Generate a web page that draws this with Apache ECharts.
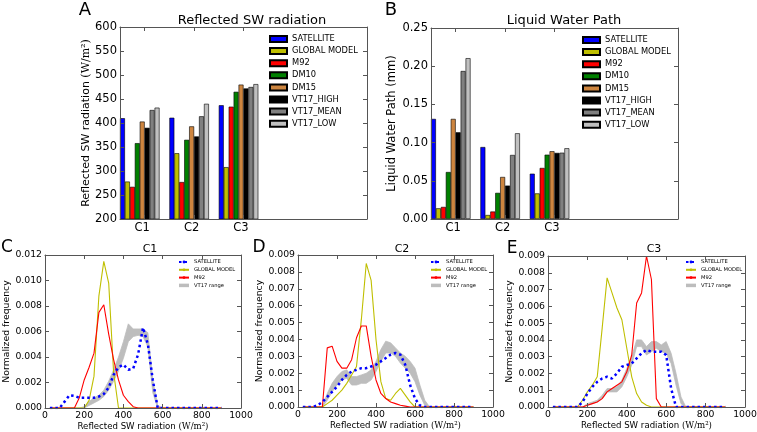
<!DOCTYPE html>
<html>
<head>
<meta charset="utf-8">
<script src="https://cdn.jsdelivr.net/npm/echarts@6/dist/echarts.min.js"></script>
<style>
html, body { margin: 0; padding: 0; background: #fff; }
#chart { width: 757px; height: 432px; }
</style>
</head>
<body>
<div id="chart"></div>
<script>
// bar panels (A, B)
const cases = ['C1', 'C2', 'C3', '', ''];
const runNames = ['SATELLITE', 'GLOBAL MODEL', 'M92', 'DM10', 'DM15', 'VT17_HIGH', 'VT17_MEAN', 'VT17_LOW'];
const runColors = ['#0000ff', '#bfbf00', '#ff0000', '#008000', '#cd853f', '#000000', '#808080', '#c0c0c0'];

// reflected SW radiation (W/m2)
const swSatellite = [410, 411, 437];
const swGlobal = [278, 337, 308];
const swM92 = [267, 277, 434];
const swDM10 = [358, 365, 465];
const swDM15 = [403, 393, 480];
const swHigh = [390, 372, 472];
const swMean = [427, 414, 475];
const swLow = [432, 440, 481];

// liquid water path (mm)
const lwpSatellite = [0.131, 0.0942, 0.0593];
const lwpGlobal = [0.014, 0.0052, 0.0335];
const lwpM92 = [0.0158, 0.0098, 0.0668];
const lwpDM10 = [0.0615, 0.0342, 0.0842];
const lwpDM15 = [0.131, 0.055, 0.0887];
const lwpHigh = [0.1135, 0.0437, 0.0865];
const lwpMean = [0.1937, 0.0838, 0.0868];
const lwpLow = [0.2105, 0.1122, 0.0926];

// histogram panels (C, D, E): bin centres in W/m2
const bins = [25, 50, 75, 100, 125, 150, 175, 200, 225, 250, 275, 300, 325, 350, 375, 400, 425, 450,
  475, 500, 525, 550, 575, 600, 625, 650, 675, 700, 725, 750, 775, 800, 825, 850, 875, 900];

const c1Satellite = [0, 0, 0, 0.0005, 0.001, 0.00095, 0.0008, 0.0008, 0.0008, 0.0008, 0.0009, 0.0011, 0.0016, 0.0026, 0.0032, 0.0034, 0.003, 0.0031,
  0.0042, 0.0063, 0.005, 0.0022, 0, 0, 0, 0, 0, 0, 0, 0, 0, 0, 0, 0, 0, 0];
const c1Global = [0, 0, 0, 0, 0, 0, 0, 0, 0.0006, 0.0025, 0.0088, 0.0115, 0.0098, 0.0028, 0, 0, 0, 0,
  0, 0, 0, 0, 0, 0, 0, 0, 0, 0, 0, 0, 0, 0, 0, 0, 0, 0];
const c1M92 = [0, 0, 0, 0, 0, 0, 0.0008, 0.0022, 0.0032, 0.0043, 0.0075, 0.0081, 0.0058, 0.0038, 0.0022, 0.001, 0.0005, 0.0001,
  0, 0, 0, 0, 0, 0, 0, 0, 0, 0, 0, 0, 0, 0, 0, 0, 0, 0];
const c1VtLow = [0, 0, 0, 0, 0, 0, 0, 0, 0.0002, 0.0004, 0.0006, 0.0009, 0.0014, 0.0021, 0.0029, 0.0039, 0.0052, 0.0056,
  0.0057, 0.0056, 0.0048, 0.0012, 0, 0, 0, 0, 0, 0, 0, 0, 0, 0, 0, 0, 0, 0];
const c1VtHigh = [0, 0, 0, 0, 0, 0, 0, 0.0001, 0.0005, 0.0008, 0.001, 0.0014, 0.0021, 0.003, 0.004, 0.0052, 0.0066, 0.0062,
  0.0062, 0.0062, 0.0059, 0.0022, 0.0002, 0, 0, 0, 0, 0, 0, 0, 0, 0, 0, 0, 0, 0];

const c2Satellite = [0, 0, 0, 0.0001, 0.0003, 0.0006, 0.0009, 0.0012, 0.0016, 0.0019, 0.0021, 0.0022, 0.0023, 0.0023, 0.0024, 0.0025, 0.0027, 0.0029,
  0.0031, 0.0032, 0.0031, 0.0025, 0.0013, 0.0005, 0.0001, 0, 0, 0, 0, 0, 0, 0, 0, 0, 0, 0];
const c2Global = [0, 0, 0, 0, 0, 0.0002, 0.0004, 0.0007, 0.001, 0.0014, 0.0019, 0.0024, 0.0052, 0.0085, 0.0075, 0.004, 0.0015, 0.0005,
  0.0004, 0.0008, 0.0011, 0.0007, 0.0003, 0, 0, 0, 0, 0, 0, 0, 0, 0, 0, 0, 0, 0];
const c2M92 = [0, 0, 0, 0, 0, 0.0035, 0.0036, 0.0027, 0.0023, 0.0023, 0.0028, 0.0041, 0.0048, 0.0048, 0.003, 0.0016, 0.0008, 0.0005,
  0.0003, 0.0002, 0.0001, 0.00005, 0, 0, 0, 0, 0, 0, 0, 0, 0, 0, 0, 0, 0, 0];
const c2VtLow = [0, 0, 0, 0, 0, 0.0004, 0.0009, 0.0013, 0.0016, 0.0017, 0.0013, 0.0013, 0.0014, 0.0014, 0.0016, 0.0021, 0.0027, 0.0032,
  0.0032, 0.003, 0.0026, 0.0023, 0.002, 0.0015, 0.0007, 0.0001, 0, 0, 0, 0, 0, 0, 0, 0, 0, 0];
const c2VtHigh = [0, 0, 0, 0, 0, 0.0008, 0.0014, 0.0018, 0.0021, 0.0022, 0.0018, 0.0018, 0.0019, 0.002, 0.0022, 0.0027, 0.0034, 0.0039,
  0.0038, 0.0035, 0.0032, 0.003, 0.0027, 0.0023, 0.0013, 0.0004, 0, 0, 0, 0, 0, 0, 0, 0, 0, 0];

const c3Satellite = [0, 0, 0, 0, 0, 0, 0.0003, 0.0008, 0.0012, 0.0015, 0.0017, 0.0018, 0.0017, 0.002, 0.0024, 0.0025, 0.0026, 0.0029,
  0.0032, 0.0034, 0.0033, 0.0033, 0.0033, 0.0031, 0.0011, 0, 0, 0, 0, 0, 0, 0, 0, 0, 0, 0];
const c3Global = [0, 0, 0, 0, 0, 0, 0.0004, 0.0009, 0.0013, 0.0018, 0.0047, 0.0077, 0.0068, 0.0059, 0.0052, 0.0035, 0.0018, 0.0008,
  0.0003, 0.0001, 0, 0, 0, 0, 0, 0, 0, 0, 0, 0, 0, 0, 0, 0, 0, 0];
const c3M92 = [0, 0, 0, 0, 0, 0, 0, 0.0001, 0.0002, 0.0003, 0.0005, 0.0009, 0.0011, 0.0013, 0.0015, 0.0021, 0.0031, 0.0062,
  0.0068, 0.009, 0.0076, 0.0005, 0, 0, 0, 0, 0, 0, 0, 0, 0, 0, 0, 0, 0, 0];
const c3VtLow = [0, 0, 0, 0, 0, 0, 0, 0.0001, 0.0002, 0.0003, 0.0005, 0.0009, 0.0009, 0.0009, 0.0012, 0.0018, 0.0025, 0.0036,
  0.0036, 0.0031, 0.0033, 0.0035, 0.0033, 0.0032, 0.0026, 0.0013, 0.0002, 0, 0, 0, 0, 0, 0, 0, 0, 0];
const c3VtHigh = [0, 0, 0, 0, 0, 0, 0, 0.0002, 0.0003, 0.0004, 0.0007, 0.0011, 0.0011, 0.0012, 0.0016, 0.0023, 0.003, 0.004,
  0.004, 0.0036, 0.0039, 0.0039, 0.0037, 0.0039, 0.0032, 0.002, 0.0006, 0, 0, 0, 0, 0, 0, 0, 0, 0];

const font = 'DejaVu Sans';
const frame = '#555';
const bandGray = '#bdbdbd';

const chart = echarts.init(document.getElementById('chart'));

function nameStyle(size) {
  return {
    color: '#000', fontFamily: font, fontSize: size,
    rich: {
      t: { color: '#000', fontFamily: font, fontSize: size },
      u: { color: '#000', fontFamily: 'DejaVu Serif', fontSize: size }
    }
  };
}

const tick = { show: true, inside: true, length: 4, lineStyle: { color: frame } };
const line = { show: true, onZero: false, lineStyle: { color: frame, width: 1 } };

// left + right y axes for one grid
function yAxes(g, min, max, step, digits, size, name, gap) {
  const base = { type: 'value', gridIndex: g, min: min, max: max, interval: step, z: 10,
    splitLine: { show: false }, axisLine: line, axisTick: tick };
  return [
    Object.assign({}, base, {
      position: 'left',
      axisLabel: { color: '#000', fontFamily: font, fontSize: size, margin: 3,
        formatter: v => v.toFixed(digits) },
      name: name, nameLocation: 'middle', nameRotate: 90, nameGap: gap,
      nameTextStyle: nameStyle(name.indexOf('{') >= 0 ? size - 0.5 : size)
    }),
    Object.assign({}, base, { position: 'right', axisLabel: { show: false } })
  ];
}

function catAxes(g) {
  const base = { type: 'category', gridIndex: g, data: cases, axisLine: line, z: 10,
    axisTick: Object.assign({}, tick, { alignWithLabel: true, interval: i => i < 3 }) };
  return [
    Object.assign({}, base, { position: 'bottom',
      axisLabel: { color: '#000', fontFamily: font, fontSize: 11.5, margin: 3, interval: 0, padding: [0, 5, 0, 0] } }),
    Object.assign({}, base, { position: 'top', axisLabel: { show: false } })
  ];
}

function swAxes(g) {
  const base = { type: 'value', gridIndex: g, min: 0, max: 1000, interval: 200, z: 10,
    splitLine: { show: false }, axisLine: line, axisTick: tick };
  return [
    Object.assign({}, base, { position: 'bottom',
      axisLabel: { color: '#000', fontFamily: font, fontSize: 9.3, margin: 3, formatter: v => String(v) },
      name: '{t|Reflected SW radiation }{u|(W/m²)}', nameLocation: 'middle', nameGap: 14,
      nameTextStyle: nameStyle(8.6) }),
    Object.assign({}, base, { position: 'top', axisLabel: { show: false } })
  ];
}

function barSeries(p, values) {
  const list = values.map((vals, i) => ({
    type: 'bar', name: runNames[i], xAxisIndex: 2 * p, yAxisIndex: 2 * p, data: vals,
    barGap: 0, barCategoryGap: 0,
    itemStyle: { color: runColors[i], borderColor: '#000', borderWidth: 0.6 }
  }));
  // two empty slots keep the gap between case groups
  for (let k = 0; k < 2; k++) {
    list.push({ type: 'bar', name: 'gap' + p + k, xAxisIndex: 2 * p, yAxisIndex: 2 * p,
      data: ['-', '-', '-'], barGap: 0, barCategoryGap: 0, silent: true });
  }
  return list;
}

function histSeries(p, sat, glob, m92, low, high) {
  const ax = { xAxisIndex: 2 * p, yAxisIndex: 2 * p, symbol: 'none', showSymbol: false };
  const pts = arr => bins.map((x, i) => [x, arr[i]]);
  // VT17 spread drawn as one polygon between the low and high curves
  const band = {
    type: 'custom', name: 'VT17 range', xAxisIndex: 2 * p, yAxisIndex: 2 * p, z: 1, clip: true,
    itemStyle: { color: bandGray }, silent: true,
    data: bins.map((x, i) => [x, low[i], high[i]]),
    encode: { x: 0, y: [1, 2] },
    renderItem: (params, api) => {
      if (params.dataIndex !== 0) return null;
      const upper = bins.map((x, i) => api.coord([x, high[i]]));
      const lower = bins.map((x, i) => api.coord([x, low[i]])).reverse();
      return { type: 'polygon', shape: { points: upper.concat(lower) },
        style: { fill: bandGray, stroke: bandGray, lineWidth: 0.8 } };
    }
  };
  return [
    band,
    Object.assign({ type: 'line', name: 'GLOBAL MODEL hist', data: pts(glob),
      lineStyle: { color: '#bfbf00', width: 1.1 }, itemStyle: { color: '#bfbf00' }, z: 3 }, ax),
    Object.assign({ type: 'line', name: 'M92 hist', data: pts(m92),
      lineStyle: { color: '#ff0000', width: 1.1 }, itemStyle: { color: '#ff0000' }, z: 4 }, ax),
    Object.assign({ type: 'line', name: 'SATELLITE hist', data: pts(sat),
      lineStyle: { color: '#0000ff', width: 2.5, type: [2.5, 3], cap: 'butt' }, itemStyle: { color: '#0000ff' }, z: 5 }, ax)
  ];
}

function barLegend(left, top) {
  return { orient: 'vertical', left: left, top: top, padding: 0, itemWidth: 17, itemHeight: 6, itemGap: 4.1,
    icon: 'rect', data: runNames, selectedMode: false,
    textStyle: { color: '#000', fontFamily: font, fontSize: 8.3, lineHeight: 8 } };
}

function histLegend(left, top) {
  return { orient: 'vertical', left: left, top: top, padding: 0, itemWidth: 10, itemHeight: 3.5, itemGap: 2.8,
    selectedMode: false,
    data: [{ name: 'SATELLITE hist' }, { name: 'GLOBAL MODEL hist' }, { name: 'M92 hist' },
      { name: 'VT17 range', icon: 'rect', itemStyle: { color: bandGray } }],
    formatter: n => n.replace(' hist', ''),
    textStyle: { color: '#000', fontFamily: font, fontSize: 5.2, lineHeight: 5 } };
}

function label(text, x, y, size) {
  return { type: 'text', x: x, y: y, silent: true,
    style: { text: text, fill: '#000', fontFamily: font, fontSize: size,
      align: 'center', verticalAlign: 'middle', textAlign: 'center', textVerticalAlign: 'middle' } };
}

const option = {
  animation: false,
  backgroundColor: '#fff',
  grid: [
    { left: 120, top: 27, width: 247, height: 192, outerBoundsMode: 'none' },
    { left: 431, top: 28, width: 247, height: 191, outerBoundsMode: 'none' },
    { left: 45, top: 255, width: 196, height: 153, outerBoundsMode: 'none' },
    { left: 298, top: 255, width: 195, height: 152, outerBoundsMode: 'none' },
    { left: 548, top: 256, width: 197, height: 151, outerBoundsMode: 'none' }
  ],
  xAxis: [].concat(catAxes(0), catAxes(1), swAxes(2), swAxes(3), swAxes(4)),
  yAxis: [].concat(
    yAxes(0, 200, 600, 50, 0, 11.5, '{t|Reflected SW radiation }{u|(W/m²)}', 28),
    yAxes(1, 0, 0.25, 0.05, 2, 11.5, 'Liquid Water Path (mm)', 29),
    yAxes(2, 0, 0.012, 0.002, 3, 9.3, 'Normalized frequency', 31),
    yAxes(3, 0, 0.009, 0.001, 3, 9.3, 'Normalized frequency', 32),
    yAxes(4, 0, 0.009, 0.001, 3, 9.3, 'Normalized frequency', 32)
  ),
  legend: [
    barLegend(269, 35),
    barLegend(582, 36),
    histLegend(178, 259.5),
    histLegend(430, 259.5),
    histLegend(685, 259.5)
  ],
  graphic: [
    label('A', 85, 10, 18), label('B', 391, 10.5, 18),
    label('C', 7, 248, 17), label('D', 259, 248, 17), label('E', 512, 249, 17),
    label('Reflected SW radiation', 252, 21, 13), label('Liquid Water Path', 564, 20.5, 13),
    label('C1', 150, 249, 11), label('C2', 402, 249, 11), label('C3', 654, 249, 11)
  ],
  series: [].concat(
    barSeries(0, [swSatellite, swGlobal, swM92, swDM10, swDM15, swHigh, swMean, swLow]),
    barSeries(1, [lwpSatellite, lwpGlobal, lwpM92, lwpDM10, lwpDM15, lwpHigh, lwpMean, lwpLow]),
    histSeries(2, c1Satellite, c1Global, c1M92, c1VtLow, c1VtHigh),
    histSeries(3, c2Satellite, c2Global, c2M92, c2VtLow, c2VtHigh),
    histSeries(4, c3Satellite, c3Global, c3M92, c3VtLow, c3VtHigh)
  )
};

chart.setOption(option);
</script>
</body>
</html>
